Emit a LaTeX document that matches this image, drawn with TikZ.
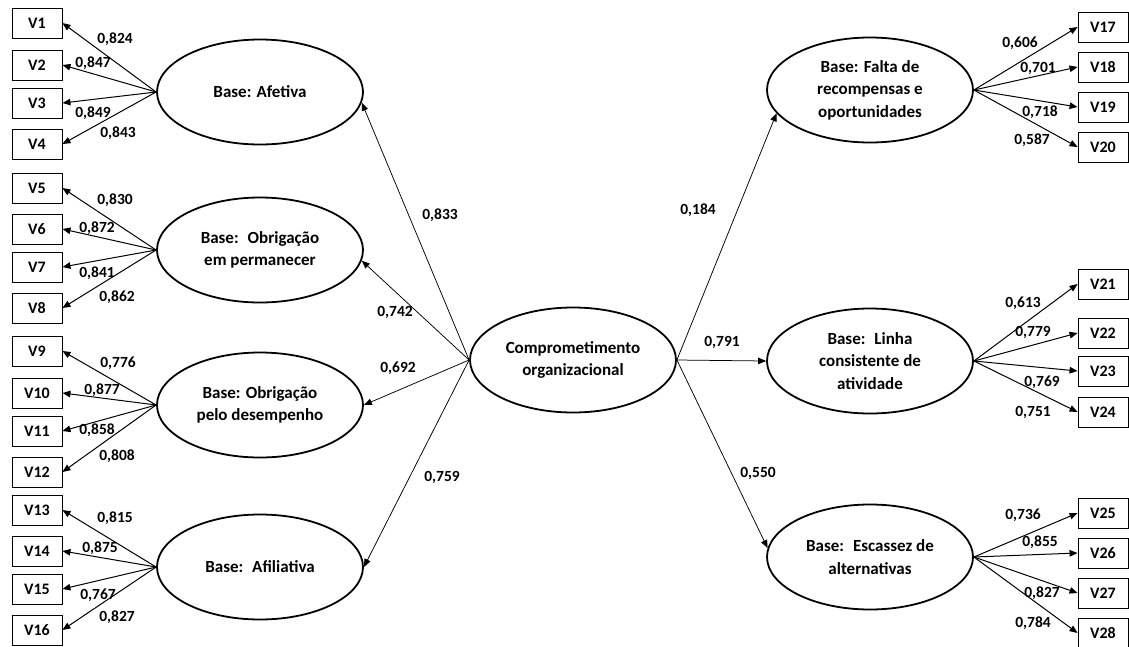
\documentclass[tikz,border=0pt]{standalone}
\usepackage{fontspec}
\setmainfont{Carlito}
\usetikzlibrary{shapes.geometric,arrows.meta}
\begin{document}
\begin{tikzpicture}[x=1pt,y=-1pt,
  lat/.style={ellipse,draw,line width=1.8pt,minimum width=206pt,minimum height=105pt,inner sep=0pt,align=center,font=\fontsize{17}{22.5}\selectfont\bfseries},
  obs/.style={rectangle,draw,line width=0.9pt,minimum width=50pt,minimum height=30pt,inner sep=0pt,font=\fontsize{16}{18}\selectfont\bfseries},
  lbl/.style={inner sep=0pt,font=\fontsize{15.5}{18}\selectfont\bfseries},
  load/.style={-{Triangle[length=8pt,width=6.5pt]},line width=1pt},
  struct/.style={-{Triangle[length=8pt,width=6.5pt]},line width=0.75pt}]
\useasboundingbox (0,0) rectangle (1129,646);
\fill[white] (0,0) rectangle (1129,646);

% latent variables
\node[lat] (C) at (573,360) {Comprometimento\\organizacional};
\node[lat] (A) at (260,92) {Base: Afetiva};
\node[lat] (B) at (260,250) {Base:~ Obrigação\\em permanecer};
\node[lat] (D) at (260,405) {Base: Obrigação\\pelo desempenho};
\node[lat] (E) at (260,567) {Base:~ Afiliativa};
\node[lat] (F) at (870,90) {Base: Falta de\\recompensas e\\oportunidades};
\node[lat] (L) at (870,361) {Base:~ Linha\\consistente de\\atividade};
\node[lat] (S) at (870,557) {Base:~ Escassez de\\alternativas};

% observed variables (left)
\foreach \n/\y in {1/23,2/65,3/103,4/144,5/188,6/229,7/267,8/308,9/351,10/393,11/431,12/472,13/510,14/551,15/589,16/630}
  \node[obs] (v\n) at (37,\y) {V\n};
% observed variables (right)
\foreach \n/\y in {17/27,18/67,19/107,20/147,21/284,22/333,23/371,24/412,25/513,26/553,27/593,28/633}
  \node[obs] (v\n) at (1103,\y) {V\n};

% loadings left
\foreach \n/\e in {1/A,2/A,3/A,4/A,5/B,6/B,7/B,8/B,9/D,10/D,11/D,12/D,13/E,14/E,15/E,16/E}
  \draw[load] (\e.west) -- (v\n.east);
% loadings right
\foreach \n/\e in {17/F,18/F,19/F,20/F,21/L,22/L,23/L,24/L,25/S,26/S,27/S,28/S}
  \draw[load] (\e.east) -- (v\n.west);

% structural paths
\draw[struct] (C.west) -- (A.-6);
\draw[struct] (C.west) -- (B.-6);
\draw[struct] (C.west) -- (D.east);
\draw[struct] (C.west) -- (E.east);
\draw[struct] (C.east) -- (F.194);
\draw[struct] (C.east) -- (L.west);
\draw[struct] (C.east) -- (S.175);

% loading labels
\foreach \n/\x/\y/\t in {1/115/39/{0,824},2/93/63/{0,847},3/93/113/{0,849},4/118/133/{0,843},
  5/115/200/{0,830},6/97/228/{0,872},7/97/273/{0,841},8/117/297/{0,862},
  9/118/363/{0,776},10/102/390/{0,877},11/97/430/{0,858},12/117/456/{0,808},
  13/115/518/{0,815},14/100/548/{0,875},15/98/595/{0,767},16/117/617/{0,827},
  17/1020/43/{0,606},18/1038/68/{0,701},19/1040/112/{0,718},20/1032/140/{0,587},
  21/1023/303/{0,613},22/1033/332/{0,779},23/1042/382/{0,769},24/1033/412/{0,751},
  25/1023/515/{0,736},26/1040/542/{0,855},27/1042/593/{0,827},28/1033/623/{0,784}}
  \node[lbl] (l\n) at (\x,\y) {\t};

% structural labels
\node[lbl] (sA) at (440,215) {0,833};
\node[lbl] (sB) at (395,312) {0,742};
\node[lbl] (sD) at (398,368) {0,692};
\node[lbl] (sE) at (442,477) {0,759};
\node[lbl] (sF) at (698,210) {0,184};
\node[lbl] (sL) at (722,342) {0,791};
\node[lbl] (sS) at (758,473) {0,550};
\end{tikzpicture}
\end{document}
